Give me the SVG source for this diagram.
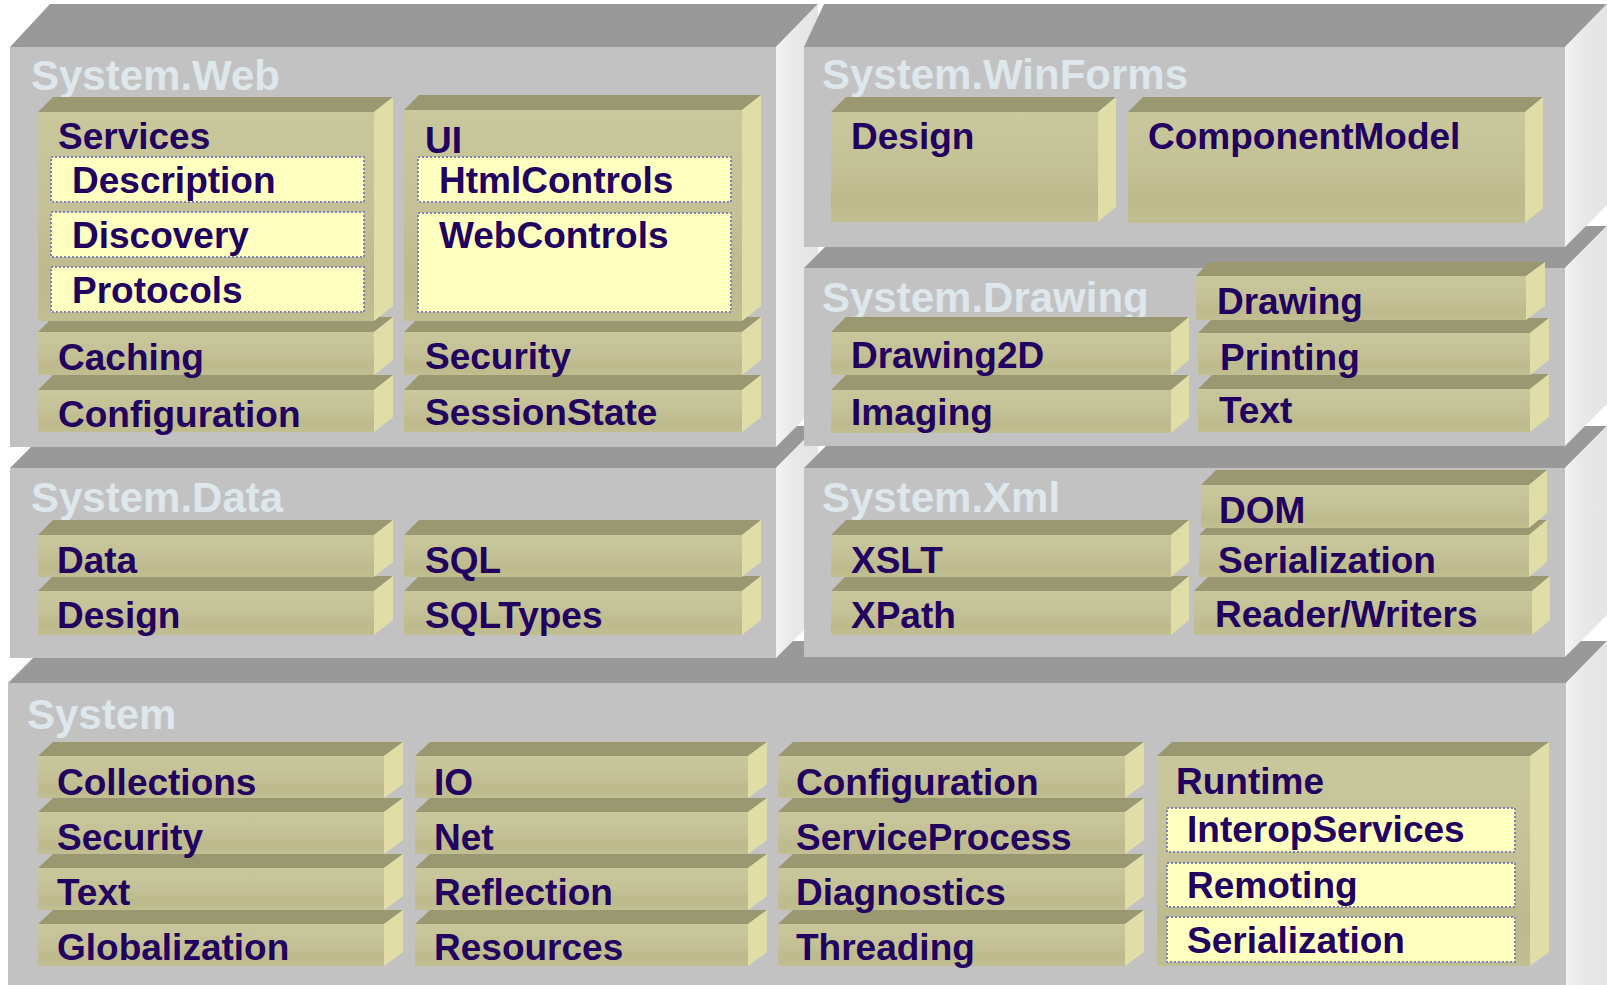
<svg xmlns="http://www.w3.org/2000/svg" width="1607" height="985" viewBox="0 0 1607 985">
<defs>
<linearGradient id="gf" x1="0" y1="0" x2="0" y2="1">
<stop offset="0" stop-color="#c9c79c"/>
<stop offset="0.5" stop-color="#c3c195"/>
<stop offset="0.8" stop-color="#bdbb8d"/>
<stop offset="1" stop-color="#c1bf92"/>
</linearGradient>
<linearGradient id="gs" x1="0" y1="0" x2="1" y2="0">
<stop offset="0" stop-color="#f3f3f3"/>
<stop offset="0.4" stop-color="#e9e9e9"/>
<stop offset="1" stop-color="#e4e4e4"/>
</linearGradient>
</defs>
<style>
.btop{fill:#999999}
.bfront{fill:#c2c2c2}
.bside{fill:url(#gs)}
.top{fill:#999870}
.front{fill:url(#gf)}
.side{fill:#e0dea6}
.sub{fill:#ffffc0;stroke:#7f84b8;stroke-width:2;stroke-dasharray:2 2}
.t{font-family:"Liberation Sans",Arial,sans-serif;font-weight:bold;font-size:37px;fill:#220060}
.title{font-family:"Liberation Sans",Arial,sans-serif;font-weight:bold;font-size:42px;fill:#dde7ec}
</style>
<rect width="1607" height="985" fill="#ffffff"/>

<g id="system">
<polygon class="btop" points="8,683 50,641 1607,641 1566,683"/>
<polygon class="bside" points="1566,683 1607,641 1607,985 1566,985"/>
<rect class="bfront" x="8" y="683" width="1558" height="302"/>
<text class="title" x="27" y="729">System</text>
<g id="sys-globalization"><polygon class="top" points="38,924 53,910 403,910 384,924"/><polygon class="side" points="384,924 403,910 403,952 384,966"/><rect class="front" x="38" y="924" width="346" height="42"/><text class="t" x="57" y="960">Globalization</text></g>
<g id="sys-text"><polygon class="top" points="38,868 53,854 403,854 384,868"/><polygon class="side" points="384,868 403,854 403,896 384,910"/><rect class="front" x="38" y="868" width="346" height="42"/><text class="t" x="57" y="905">Text</text></g>
<g id="sys-security"><polygon class="top" points="38,812 53,798 403,798 384,812"/><polygon class="side" points="384,812 403,798 403,840 384,854"/><rect class="front" x="38" y="812" width="346" height="42"/><text class="t" x="57" y="850">Security</text></g>
<g id="sys-collections"><polygon class="top" points="38,756 53,742 403,742 384,756"/><polygon class="side" points="384,756 403,742 403,784 384,798"/><rect class="front" x="38" y="756" width="346" height="42"/><text class="t" x="57" y="795">Collections</text></g>
<g id="sys-resources"><polygon class="top" points="415,924 430,910 767,910 748,924"/><polygon class="side" points="748,924 767,910 767,952 748,966"/><rect class="front" x="415" y="924" width="333" height="42"/><text class="t" x="434" y="960">Resources</text></g>
<g id="sys-reflection"><polygon class="top" points="415,868 430,854 767,854 748,868"/><polygon class="side" points="748,868 767,854 767,896 748,910"/><rect class="front" x="415" y="868" width="333" height="42"/><text class="t" x="434" y="905">Reflection</text></g>
<g id="sys-net"><polygon class="top" points="415,812 430,798 767,798 748,812"/><polygon class="side" points="748,812 767,798 767,840 748,854"/><rect class="front" x="415" y="812" width="333" height="42"/><text class="t" x="434" y="850">Net</text></g>
<g id="sys-io"><polygon class="top" points="415,756 430,742 767,742 748,756"/><polygon class="side" points="748,756 767,742 767,784 748,798"/><rect class="front" x="415" y="756" width="333" height="42"/><text class="t" x="434" y="795">IO</text></g>
<g id="sys-threading"><polygon class="top" points="778,924 793,910 1144,910 1125,924"/><polygon class="side" points="1125,924 1144,910 1144,952 1125,966"/><rect class="front" x="778" y="924" width="347" height="42"/><text class="t" x="796" y="960">Threading</text></g>
<g id="sys-diagnostics"><polygon class="top" points="778,868 793,854 1144,854 1125,868"/><polygon class="side" points="1125,868 1144,854 1144,896 1125,910"/><rect class="front" x="778" y="868" width="347" height="42"/><text class="t" x="796" y="905">Diagnostics</text></g>
<g id="sys-serviceprocess"><polygon class="top" points="778,812 793,798 1144,798 1125,812"/><polygon class="side" points="1125,812 1144,798 1144,840 1125,854"/><rect class="front" x="778" y="812" width="347" height="42"/><text class="t" x="796" y="850">ServiceProcess</text></g>
<g id="sys-configuration"><polygon class="top" points="778,756 793,742 1144,742 1125,756"/><polygon class="side" points="1125,756 1144,742 1144,784 1125,798"/><rect class="front" x="778" y="756" width="347" height="42"/><text class="t" x="796" y="795">Configuration</text></g>
<g id="sys-runtime"><polygon class="top" points="1157,756 1172,742 1549,742 1530,756"/><polygon class="side" points="1530,756 1549,742 1549,952 1530,966"/><rect class="front" x="1157" y="756" width="373" height="210"/><text class="t" x="1176" y="794">Runtime</text>
<rect class="sub" x="1167" y="808" width="348" height="44"/><text class="t" x="1187" y="842">InteropServices</text>
<rect class="sub" x="1167" y="863" width="348" height="44"/><text class="t" x="1187" y="898">Remoting</text>
<rect class="sub" x="1167" y="917" width="348" height="45"/><text class="t" x="1187" y="953">Serialization</text></g>
</g>

<g id="system-data">
<polygon class="btop" points="10,468 52,426 818,426 776,468"/>
<polygon class="bside" points="776,468 818,426 818,616 776,658"/>
<rect class="bfront" x="10" y="468" width="766" height="190"/>
<text class="title" x="31" y="512">System.Data</text>
<g id="data-design"><polygon class="top" points="38,591 53,576 393,576 374,591"/><polygon class="side" points="374,591 393,576 393,620 374,635"/><rect class="front" x="38" y="591" width="336" height="44"/><text class="t" x="57" y="628">Design</text></g>
<g id="data-data"><polygon class="top" points="38,535 53,520 393,520 374,535"/><polygon class="side" points="374,535 393,520 393,562 374,577"/><rect class="front" x="38" y="535" width="336" height="42"/><text class="t" x="57" y="573">Data</text></g>
<g id="data-sqltypes"><polygon class="top" points="404,591 419,576 761,576 742,591"/><polygon class="side" points="742,591 761,576 761,620 742,635"/><rect class="front" x="404" y="591" width="338" height="44"/><text class="t" x="425" y="628">SQLTypes</text></g>
<g id="data-sql"><polygon class="top" points="404,535 419,520 761,520 742,535"/><polygon class="side" points="742,535 761,520 761,562 742,577"/><rect class="front" x="404" y="535" width="338" height="42"/><text class="t" x="425" y="573">SQL</text></g>
</g>

<g id="system-web">
<polygon class="btop" points="10,47 50,4 818,4 776,47"/>
<polygon class="bside" points="776,47 818,4 818,405 776,447"/>
<rect class="bfront" x="10" y="47" width="766" height="400"/>
<text class="title" x="31" y="90">System.Web</text>
<g id="web-configuration"><polygon class="top" points="38,390 53,375 393,375 374,390"/><polygon class="side" points="374,390 393,375 393,417 374,432"/><rect class="front" x="38" y="390" width="336" height="42"/><text class="t" x="58" y="427">Configuration</text></g>
<g id="web-caching"><polygon class="top" points="38,332 53,317 393,317 374,332"/><polygon class="side" points="374,332 393,317 393,360 374,375"/><rect class="front" x="38" y="332" width="336" height="43"/><text class="t" x="58" y="370">Caching</text></g>
<g id="web-services"><polygon class="top" points="38,112 53,97 393,97 374,112"/><polygon class="side" points="374,112 393,97 393,306 374,321"/><rect class="front" x="38" y="112" width="336" height="209"/><text class="t" x="58" y="149">Services</text>
<rect class="sub" x="51" y="157" width="313" height="45"/><text class="t" x="72" y="193">Description</text>
<rect class="sub" x="51" y="212" width="313" height="45"/><text class="t" x="72" y="248">Discovery</text>
<rect class="sub" x="51" y="267" width="313" height="45"/><text class="t" x="72" y="303">Protocols</text></g>
<g id="web-sessionstate"><polygon class="top" points="404,390 419,375 761,375 742,390"/><polygon class="side" points="742,390 761,375 761,417 742,432"/><rect class="front" x="404" y="390" width="338" height="42"/><text class="t" x="425" y="425">SessionState</text></g>
<g id="web-security"><polygon class="top" points="404,332 419,317 761,317 742,332"/><polygon class="side" points="742,332 761,317 761,360 742,375"/><rect class="front" x="404" y="332" width="338" height="43"/><text class="t" x="425" y="369">Security</text></g>
<g id="web-ui"><polygon class="top" points="404,110 419,95 761,95 742,110"/><polygon class="side" points="742,110 761,95 761,306 742,321"/><rect class="front" x="404" y="110" width="338" height="211"/><text class="t" x="425" y="153">UI</text>
<rect class="sub" x="418" y="157" width="313" height="45"/><text class="t" x="439" y="193">HtmlControls</text>
<rect class="sub" x="418" y="213" width="313" height="99"/><text class="t" x="439" y="248">WebControls</text></g>
</g>

<g id="system-xml">
<polygon class="btop" points="804,468 846,426 1607,426 1565,468"/>
<polygon class="bside" points="1565,468 1607,426 1607,615 1565,657"/>
<rect class="bfront" x="804" y="468" width="761" height="189"/>
<text class="title" x="822" y="512">System.Xml</text>
<g id="xml-xpath"><polygon class="top" points="831,591 846,576 1189,576 1171,591"/><polygon class="side" points="1171,591 1189,576 1189,620 1171,635"/><rect class="front" x="831" y="591" width="340" height="44"/><text class="t" x="851" y="628">XPath</text></g>
<g id="xml-xslt"><polygon class="top" points="831,535 846,520 1189,520 1171,535"/><polygon class="side" points="1171,535 1189,520 1189,562 1171,577"/><rect class="front" x="831" y="535" width="340" height="42"/><text class="t" x="851" y="573">XSLT</text></g>
<g id="xml-readerwriters"><polygon class="top" points="1194,591 1209,576 1550,576 1532,591"/><polygon class="side" points="1532,591 1550,576 1550,620 1532,635"/><rect class="front" x="1194" y="591" width="338" height="44"/><text class="t" x="1215" y="627">Reader/Writers</text></g>
<g id="xml-serialization"><polygon class="top" points="1199,535 1214,520 1547,520 1529,535"/><polygon class="side" points="1529,535 1547,520 1547,562 1529,577"/><rect class="front" x="1199" y="535" width="330" height="42"/><text class="t" x="1218" y="573">Serialization</text></g>
<g id="xml-dom"><polygon class="top" points="1201,485 1216,470 1547,470 1529,485"/><polygon class="side" points="1529,485 1547,470 1547,513 1529,528"/><rect class="front" x="1201" y="485" width="328" height="43"/><text class="t" x="1219" y="523">DOM</text></g>
</g>

<g id="system-drawing">
<polygon class="btop" points="804,268 846,226 1607,226 1565,268"/>
<polygon class="bside" points="1565,268 1607,226 1607,404 1565,446"/>
<rect class="bfront" x="804" y="268" width="761" height="178"/>
<text class="title" x="822" y="312">System.Drawing</text>
<g id="drw-imaging"><polygon class="top" points="831,390 846,375 1189,375 1171,390"/><polygon class="side" points="1171,390 1189,375 1189,418 1171,433"/><rect class="front" x="831" y="390" width="340" height="43"/><text class="t" x="851" y="425">Imaging</text></g>
<g id="drw-drawing2d"><polygon class="top" points="831,332 846,317 1189,317 1171,332"/><polygon class="side" points="1171,332 1189,317 1189,360 1171,375"/><rect class="front" x="831" y="332" width="340" height="43"/><text class="t" x="851" y="368">Drawing2D</text></g>
<g id="drw-text"><polygon class="top" points="1198,389 1213,374 1549,374 1530,389"/><polygon class="side" points="1530,389 1549,374 1549,417 1530,432"/><rect class="front" x="1198" y="389" width="332" height="43"/><text class="t" x="1219" y="423">Text</text></g>
<g id="drw-printing"><polygon class="top" points="1198,333 1213,318 1549,318 1530,333"/><polygon class="side" points="1530,333 1549,318 1549,360 1530,375"/><rect class="front" x="1198" y="333" width="332" height="42"/><text class="t" x="1220" y="370">Printing</text></g>
<g id="drw-drawing"><polygon class="top" points="1196,276 1209,262 1545,262 1526,276"/><polygon class="side" points="1526,276 1545,262 1545,306 1526,320"/><rect class="front" x="1196" y="276" width="330" height="44"/><text class="t" x="1217" y="314">Drawing</text></g>
</g>

<g id="system-winforms">
<polygon class="btop" points="804,47 824,4 1607,4 1565,47"/>
<polygon class="bside" points="1565,47 1607,4 1607,205 1565,247"/>
<rect class="bfront" x="804" y="47" width="761" height="200"/>
<text class="title" x="822" y="89">System.WinForms</text>
<g id="wf-design"><polygon class="top" points="831,112 846,97 1116,97 1098,112"/><polygon class="side" points="1098,112 1116,97 1116,207 1098,222"/><rect class="front" x="831" y="112" width="267" height="110"/><text class="t" x="851" y="149">Design</text></g>
<g id="wf-componentmodel"><polygon class="top" points="1128,112 1143,97 1543,97 1525,112"/><polygon class="side" points="1525,112 1543,97 1543,208 1525,223"/><rect class="front" x="1128" y="112" width="397" height="111"/><text class="t" x="1148" y="149">ComponentModel</text></g>
</g>

<g id="connectors"></g>
</svg>
